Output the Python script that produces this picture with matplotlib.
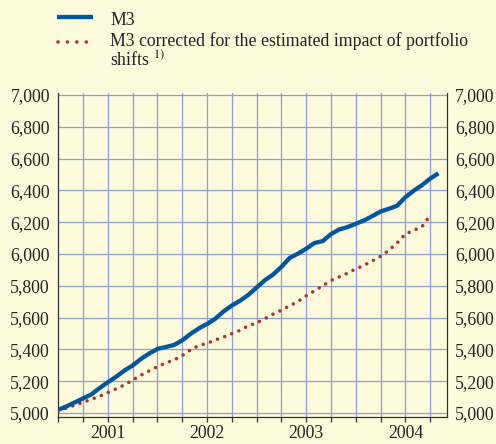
import matplotlib
matplotlib.use('Agg')
import matplotlib.pyplot as plt
from matplotlib.lines import Line2D
import numpy as np

# monthly levels, EUR billions, Jan 2001 onwards
m3 = [5021, 5042, 5067, 5092, 5117, 5157, 5194, 5228, 5267, 5299, 5340, 5374,
      5403, 5415, 5428, 5457, 5497, 5532, 5560, 5593, 5639, 5676, 5706, 5743,
      5789, 5835, 5871, 5919, 5975, 6002, 6033, 6069, 6081, 6125, 6154, 6169,
      6190, 6211, 6238, 6267, 6284, 6303, 6357, 6397, 6432, 6474, 6507]
m3_corrected = [5013, 5031, 5050, 5067, 5086, 5106, 5129, 5152, 5177, 5207, 5238, 5265,
                5292, 5315, 5334, 5361, 5397, 5424, 5438, 5459, 5478, 5499, 5520, 5549,
                5566, 5593, 5622, 5647, 5674, 5701, 5737, 5768, 5800, 5833, 5856, 5879,
                5906, 5929, 5956, 5985, 6023, 6069, 6125, 6148, 6171, 6242]
years = ['2001', '2002', '2003', '2004']
yticks = [5000, 5200, 5400, 5600, 5800, 6000, 6200, 6400, 6600, 6800, 7000]

BG = '#fefbdc'
BLUE = '#00569f'
RED = '#b0352d'
GRID = '#8d9de0'

plt.rcParams['font.family'] = ['Liberation Serif', 'DejaVu Serif']
plt.rcParams['mathtext.fontset'] = 'stix'
plt.rcParams['font.size'] = 12.8
plt.rcParams['text.color'] = '#222222'
plt.rcParams['xtick.labelcolor'] = '#222222'
plt.rcParams['ytick.labelcolor'] = '#222222'

W, H = 496, 444
fig = plt.figure(figsize=(W / 100, H / 100), dpi=100, facecolor=BG)
ax = fig.add_axes([58.3 / W, 1 - 417 / H, (446.7 - 58.3) / W, (417 - 93) / H])
ax.set_facecolor(BG)

x1 = np.arange(len(m3))
x2 = np.arange(len(m3_corrected))
ax.plot(x2, m3_corrected, color=RED, lw=2.6, linestyle=(0, (0.01, 2.1)),
        dash_capstyle='round', zorder=3)
ax.plot(x1, m3, color=BLUE, lw=3.1, solid_capstyle='butt', zorder=4)

ax.set_xlim(0, 47)
ax.set_ylim(4975, 7012)

# quarter ticks (major) and year labels (minor) share positions
ax.xaxis.remove_overlapping_locs = False
ax.set_xticks(np.arange(0, 46, 3))
ax.set_xticks(np.arange(6, 48, 12), minor=True)
ax.set_xticklabels([])
ax.set_xticklabels(years, minor=True)
ax.tick_params(axis='x', which='major', direction='out', length=3.5, width=0.9,
               color='#333333')
ax.tick_params(axis='x', which='minor', length=0, pad=5.5, labelsize=12.8)

ax.set_yticks(yticks)
ax.set_yticklabels([f'{v:,}' for v in yticks])
ax.tick_params(axis='y', length=0, pad=6, labelleft=True, labelright=True,
               labelsize=12.8)

for v in yticks:
    ax.axhline(v, color=GRID, lw=0.9, zorder=1)
for q in np.arange(3, 46, 3):
    ax.axvline(q, color=GRID, lw=0.9, zorder=1)

ax.spines['top'].set_visible(False)
for s in ['left', 'right', 'bottom']:
    ax.spines[s].set_color('#333333')
    ax.spines[s].set_linewidth(0.9)

# legend
def fx(px):
    return px / W

def fy(py):
    return 1 - py / H

fig.add_artist(Line2D([fx(57), fx(93)], [fy(17), fy(17)], color=BLUE, lw=3.1,
                      solid_capstyle='butt'))
fig.add_artist(Line2D([fx(58), fx(93)], [fy(42), fy(42)], color=RED, lw=2.6,
                      linestyle=(0, (0.01, 2.6)), dash_capstyle='round'))
fig.text(fx(110), fy(25), 'M3', va='baseline', ha='left')
fig.text(fx(110), fy(46), 'M3 corrected for the estimated impact of portfolio',
         va='baseline', ha='left')
fig.text(fx(110), fy(66), r'shifts $^{1)}$', va='baseline', ha='left')

fig.savefig('out.png', dpi=100, facecolor=BG)
